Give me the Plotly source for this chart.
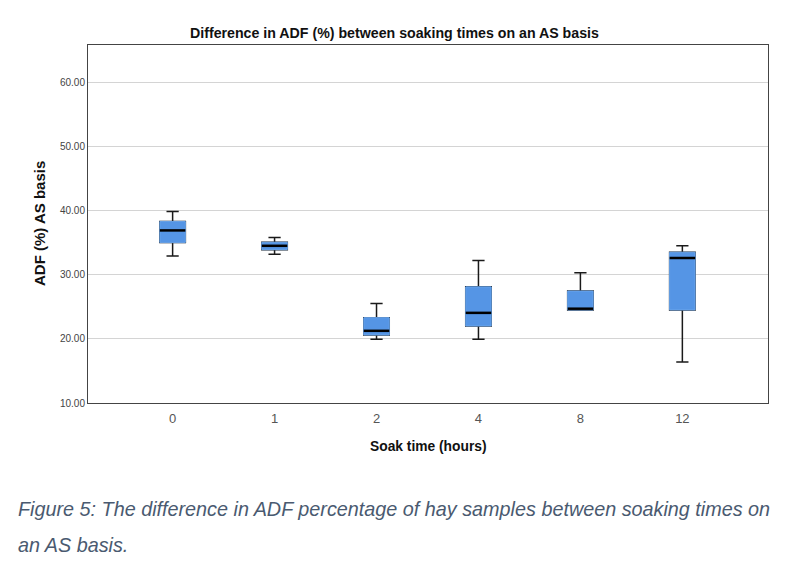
import plotly.graph_objects as go

soak_times = ["0", "1", "2", "4", "8", "12"]
q1 = [35.0, 33.9, 20.6, 22.0, 24.5, 24.5]
median = [36.9, 34.5, 21.25, 24.05, 24.7, 32.6]
q3 = [38.3, 35.05, 23.3, 28.1, 27.45, 33.5]
low = [32.9, 33.2, 19.95, 19.95, 24.5, 16.4]
high = [39.85, 35.8, 25.5, 32.2, 30.3, 34.5]

BLUE = "#5595e5"
FONT = "Liberation Sans"
BOX_W = 0.25

pos = list(range(len(soak_times)))

fig = go.Figure()

# whiskers and caps in black
fig.add_trace(
    go.Box(
        x=pos, q1=q1, median=median, q3=q3,
        lowerfence=low, upperfence=high,
        width=BOX_W, whiskerwidth=0.48,
        fillcolor=BLUE, line=dict(color="#1a1a1a", width=1.5),
        boxpoints=False, hoverinfo="skip", showlegend=False,
    )
)
# box body with a blue outline on top
fig.add_trace(
    go.Box(
        x=pos, q1=q1, median=median, q3=q3,
        lowerfence=q1, upperfence=q3,
        width=BOX_W, whiskerwidth=0,
        fillcolor=BLUE, line=dict(color="#6aa6ec", width=1),
        boxpoints=False, hoverinfo="skip", showlegend=False,
    )
)
# median lines
mx, my = [], []
for p, m in zip(pos, median):
    mx += [p - BOX_W / 2, p + BOX_W / 2, None]
    my += [m, m, None]
fig.add_trace(
    go.Scatter(
        x=mx, y=my, mode="lines",
        line=dict(color="black", width=2.5),
        hoverinfo="skip", showlegend=False,
    )
)

# page body has an 8px margin, so the figure is a bit smaller and shifted
fig.update_layout(
    width=792,
    height=558,
    margin=dict(l=80, r=32, t=37, b=163),
    paper_bgcolor="white",
    plot_bgcolor="white",
    boxmode="overlay",
    font=dict(family=FONT, color="#222222"),
    xaxis=dict(
        range=[-0.83, 5.84],
        tickmode="array",
        tickvals=pos,
        ticktext=soak_times,
        tickfont=dict(size=13, color="#555555"),
        showgrid=False,
        zeroline=False,
        showline=True,
        linecolor="#444444",
        linewidth=1,
        mirror=True,
        ticks="outside",
        ticklen=3,
        tickcolor="rgba(0,0,0,0)",
    ),
    yaxis=dict(
        range=[10, 65.8],
        tickmode="array",
        tickvals=[10, 20, 30, 40, 50, 60],
        tickformat=".2f",
        tickfont=dict(size=10, color="#444444"),
        showgrid=True,
        gridcolor="#d4d4d4",
        gridwidth=1,
        zeroline=False,
        showline=True,
        linecolor="#444444",
        linewidth=1,
        mirror=True,
        ticks="",
    ),
)

fig.add_annotation(
    text="<b>Difference in ADF (%) between soaking times on an AS basis</b>",
    xref="paper", yref="paper", x=0.451, y=1.0, yshift=12, yanchor="middle",
    showarrow=False, font=dict(size=14.2, color="#111111"),
)
fig.add_annotation(
    text="<b>ADF (%) AS basis</b>",
    xref="paper", yref="paper", x=0, xshift=-49, xanchor="center",
    y=0.5, yanchor="middle",
    textangle=-90, showarrow=False, font=dict(size=15, color="#111111"),
)
fig.add_annotation(
    text="<b>Soak time (hours)</b>",
    xref="paper", yref="paper", x=0.5, y=0, yshift=-43, yanchor="middle",
    showarrow=False, font=dict(size=13.8, color="#111111"),
)
fig.add_annotation(
    text="<i>Figure 5: The difference in ADF percentage of hay samples between soaking times on</i>",
    xref="paper", yref="paper", x=0, xshift=-72, xanchor="left",
    y=0, yshift=-106, yanchor="middle", showarrow=False,
    font=dict(size=19.8, color="#4a5a70"),
)
fig.add_annotation(
    text="<i>an AS basis.</i>",
    xref="paper", yref="paper", x=0, xshift=-72, xanchor="left",
    y=0, yshift=-142, yanchor="middle", showarrow=False,
    font=dict(size=19.8, color="#4a5a70"),
)

fig.write_html("out.html")
